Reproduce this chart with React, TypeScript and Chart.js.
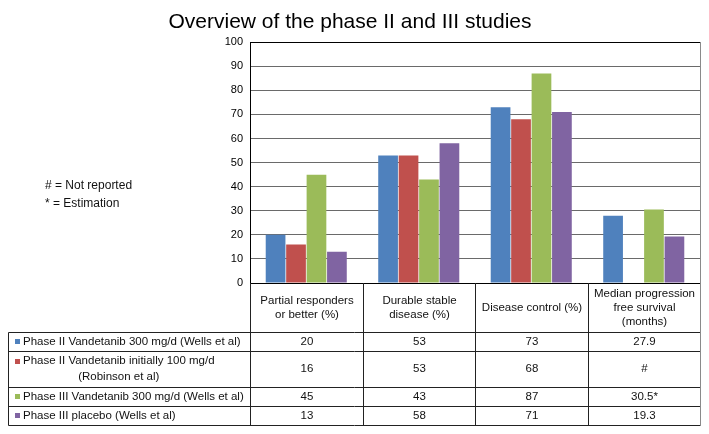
import React, { useEffect, useRef } from "react";
import { Chart, registerables } from "chart.js";

Chart.register(...registerables);

// ---------- data ----------
const chartTitle = "Overview of the phase II and III studies";
const categories: string[][] = [
  ["Partial responders", "or better (%)"],
  ["Durable stable", "disease (%)"],
  ["Disease control (%)"],
  ["Median progression", "free survival", "(months)"],
];
const seriesNames: string[][] = [
  ["Phase II Vandetanib 300 mg/d (Wells et al)"],
  ["Phase II Vandetanib initially 100 mg/d", "(Robinson et al)"],
  ["Phase III Vandetanib 300 mg/d (Wells et al)"],
  ["Phase III placebo (Wells et al)"],
];
const seriesColors = ["#4F81BD", "#C0504D", "#9BBB59", "#8064A2"];
const phase2Vandetanib300 = [20, 53, 73, 27.9];
const phase2Vandetanib100 = [16, 53, 68, null];
const phase3Vandetanib300 = [45, 43, 87, 30.5];
const phase3Placebo = [13, 58, 71, 19.3];
const phase2Vandetanib300Est = [false, false, false, false];
const phase2Vandetanib100Est = [false, false, false, false];
const phase3Vandetanib300Est = [false, false, false, true];
const phase3PlaceboEst = [false, false, false, false];
const seriesValues = [phase2Vandetanib300, phase2Vandetanib100, phase3Vandetanib300, phase3Placebo];
const seriesEstimated = [phase2Vandetanib300Est, phase2Vandetanib100Est, phase3Vandetanib300Est, phase3PlaceboEst];
const yMin = 0;
const yMax = 100;
const yStep = 10;
const notReportedMark = "#";
const estimationMark = "*";
const notes = ["# = Not reported", "* = Estimation"];

const FONT = "'Liberation Sans', Arial, sans-serif";

function cellText(v: number | null, est: boolean): string {
  if (v === null || v === undefined) return notReportedMark;
  return String(v) + (est ? estimationMark : "");
}

const tablePlugin = {
  id: "dataTable",
  afterDraw(chart: any) {
    const { ctx, chartArea } = chart;
    const x = chart.scales.x;
    const n = categories.length;
    const colW = (x.right - x.left) / n;
    const bounds: number[] = [];
    for (let i = 0; i <= n; i++) bounds.push(Math.round(x.left + i * colW) + 0.5);
    const top = Math.round(chartArea.bottom);
    const headerH = 49;
    const rowH = [19, 36, 19, 19];
    const rowY: number[] = [top + headerH];
    rowH.forEach((h) => rowY.push(rowY[rowY.length - 1] + h));
    const bottom = rowY[rowY.length - 1];
    const tableLeft = 8.5;

    ctx.save();
    ctx.lineWidth = 1;
    ctx.strokeStyle = "#222";
    ctx.beginPath();
    for (let i = 0; i < n; i++) {
      ctx.moveTo(bounds[i], top);
      ctx.lineTo(bounds[i], bottom + 0.5);
    }
    ctx.moveTo(tableLeft, rowY[0] + 0.5);
    ctx.lineTo(tableLeft, bottom + 0.5);
    rowY.forEach((y) => {
      ctx.moveTo(tableLeft, y + 0.5);
      ctx.lineTo(bounds[n], y + 0.5);
    });
    ctx.stroke();
    ctx.strokeStyle = "#8a8a8a";
    ctx.beginPath();
    ctx.moveTo(bounds[n], Math.round(chartArea.top));
    ctx.lineTo(bounds[n], bottom + 1);
    ctx.stroke();

    ctx.fillStyle = "#111";
    ctx.font = `11.5px ${FONT}`;
    ctx.textBaseline = "middle";
    ctx.textAlign = "center";
    // header
    const hc = top + headerH / 2;
    categories.forEach((lines, i) => {
      const cx = (bounds[i] + bounds[i + 1]) / 2;
      lines.forEach((ln, k) => {
        ctx.fillText(ln, cx, hc + (k - (lines.length - 1) / 2) * 14);
      });
    });
    // rows
    seriesNames.forEach((lines, r) => {
      const rc = (rowY[r] + rowY[r + 1]) / 2;
      const ls = 16;
      const y0 = rc - ((lines.length - 1) / 2) * ls;
      ctx.fillStyle = seriesColors[r];
      ctx.fillRect(15, Math.round(y0 - 2.5), 5, 5);
      ctx.fillStyle = "#111";
      ctx.textAlign = "left";
      const w0 = ctx.measureText(lines[0]).width;
      ctx.fillText(lines[0], 23, y0);
      ctx.textAlign = "center";
      for (let k = 1; k < lines.length; k++) {
        ctx.fillText(lines[k], 23 + w0 / 2, y0 + k * ls);
      }
      for (let i = 0; i < n; i++) {
        const cx = (bounds[i] + bounds[i + 1]) / 2;
        ctx.fillText(cellText(seriesValues[r][i], seriesEstimated[r][i]), cx, rc);
      }
    });
    // notes
    ctx.font = `12px ${FONT}`;
    ctx.textAlign = "left";
    notes.forEach((t, k) => ctx.fillText(t, 45, 186 + k * 18));
    ctx.restore();
  },
};

export default function App() {
  const ref = useRef<HTMLCanvasElement | null>(null);
  useEffect(() => {
    if (!ref.current) return;
    const chart = new Chart(ref.current, {
      type: "bar",
      data: {
        labels: categories,
        datasets: seriesNames.map((name, i) => ({
          label: name.join(" "),
          data: seriesValues[i],
          backgroundColor: seriesColors[i],
          borderWidth: 0,
          categoryPercentage: 0.727,
          barPercentage: 0.964,
        })),
      },
      options: {
        responsive: false,
        animation: false,
        layout: { padding: { left: 0, right: 9, top: 0, bottom: 151 } },
        plugins: {
          legend: { display: false },
          tooltip: { enabled: false },
          title: {
            display: true,
            text: chartTitle,
            color: "#000",
            font: { family: FONT, size: 21, weight: "normal" },
            padding: { top: 10, bottom: 7 },
          },
        },
        scales: {
          x: { display: false },
          y: {
            min: yMin,
            max: yMax,
            afterFit(scale: any) {
              scale.width = 250;
            },
            ticks: {
              stepSize: yStep,
              color: "#000",
              padding: 7,
              font: { family: FONT, size: 11 },
            },
            grid: {
              drawTicks: false,
              color: (c: any) =>
                c.tick && (c.tick.value === yMin || c.tick.value === yMax) ? "#000" : "#6a6a6a",
            },
            border: { display: true, color: "#000", width: 1 },
          },
        },
      },
      plugins: [tablePlugin],
    } as any);
    return () => chart.destroy();
  }, []);
  return (
    <div style={{ position: "absolute", left: 0, top: 0, width: 709, height: 434, background: "#fff" }}>
      <canvas ref={ref} width={709} height={434} />
    </div>
  );
}
